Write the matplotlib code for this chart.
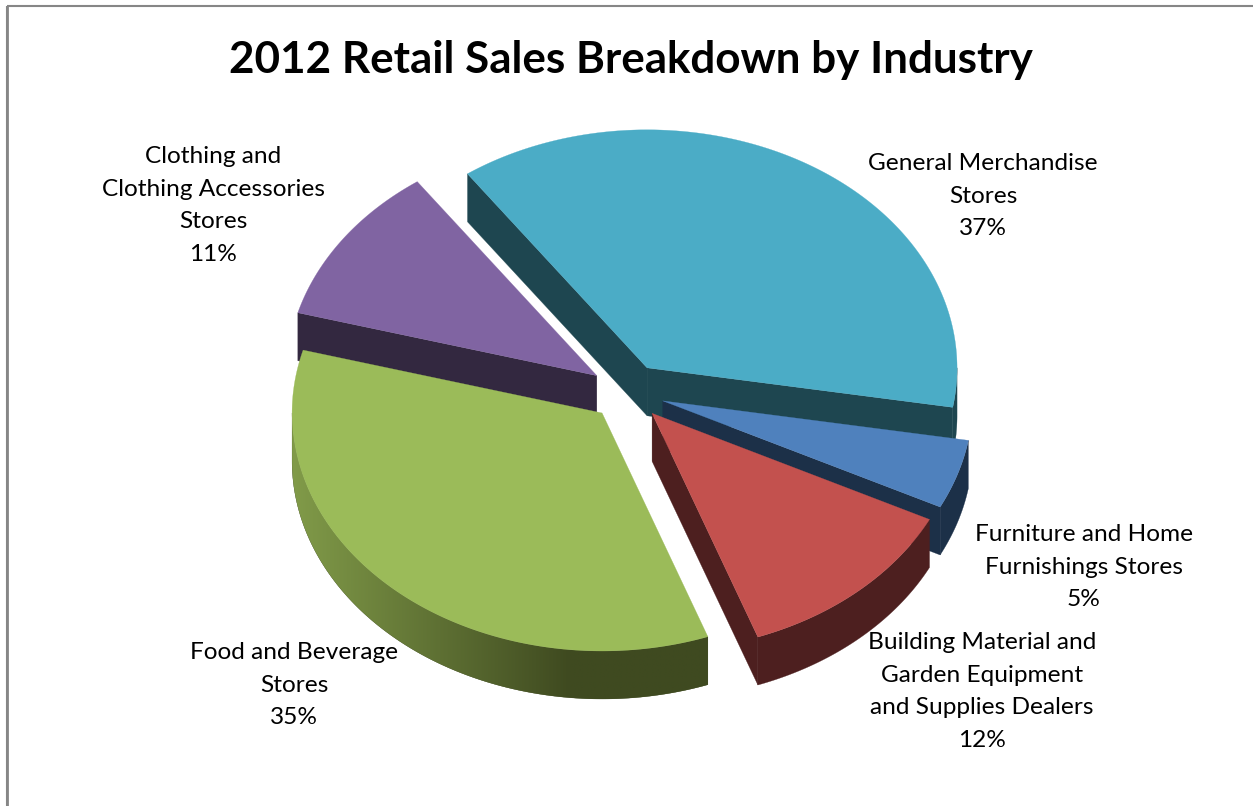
import numpy as np
import matplotlib
matplotlib.use("Agg")
import matplotlib.pyplot as plt
from matplotlib.colors import to_rgb
from matplotlib.patches import Polygon, Rectangle

plt.rcParams['font.family'] = ['Lato', 'DejaVu Sans']

TITLE = "2012 Retail Sales Breakdown by Industry"
categories = ["General Merchandise Stores", "Furniture and Home Furnishings Stores",
              "Building Material and Garden Equipment and Supplies Dealers",
              "Food and Beverage Stores", "Clothing and Clothing Accessories Stores"]
shares = [37.49, 4.7, 12.1, 34.8, 10.91]
label_lines = [["General Merchandise", "Stores"],
               ["Furniture and Home", "Furnishings Stores"],
               ["Building Material and", "Garden Equipment", "and Supplies Dealers"],
               ["Food and Beverage", "Stores"],
               ["Clothing and", "Clothing Accessories", "Stores"]]
label_x = [983, 1084, 982, 294, 213]
label_first_baseline = [170, 541, 649, 659, 163]
LINE_STEP = 32.7
top_colors = ["#4BACC6", "#4F81BD", "#C3514E", "#9BBB59", "#8064A2"]
wall_colors = ["#1E4650", "#1C3048", "#4D1F1F", "#3F4A20", "#332840"]
paint_order = [0, 4, 1, 3, 2]

# Projected pie geometry, in figure pixels
CX, CY = 627.3, 392.0
RX, RY = 310.0, 238.0
DEPTH = 48.0
EXPLODE = 0.12
START_ANGLE = -35.4   # degrees clockwise from the top

# Side walls brighten from GRAD_DARK_X out to GRAD_LIGHT_X
GRAD_DARK_X, GRAD_LIGHT_X = 570.0, 291.0
GRAD_LIGHT_MIX = 0.72

fig = plt.figure(figsize=(12.53, 8.06), dpi=100, facecolor="white")
ax = fig.add_axes([0, 0, 1, 1])
ax.set_xlim(0, 1253)
ax.set_ylim(806, 0)
ax.axis("off")

# Chart-area frame, running off the right and bottom edges
ax.add_patch(Rectangle((7, 6.3), 1400, 1000, fill=False, edgecolor="#868686", lw=1.5))
ax.plot([7, 7], [6, 806], color="#868686", lw=2.0, solid_capstyle="butt")


def rim(apex, deg):
    a = np.radians(deg)
    return apex[0] + RX * np.sin(a), apex[1] - RY * np.cos(a)


def extrude(p, q, color, z):
    pts = [p, q, (q[0], q[1] + DEPTH), (p[0], p[1] + DEPTH)]
    ax.add_patch(Polygon(pts, closed=True, facecolor=color, edgecolor=color, lw=0.2, zorder=z))


def outer_wall(apex, a0, a1, wall, top, z):
    # The curved wall shows only where the rim faces the viewer (90 to 270 degrees)
    lo, hi = max(a0, 90.0), min(a1, 270.0)
    if lo >= hi:
        return
    xs, ys = rim(apex, np.linspace(lo, hi, 200))
    pts = np.vstack([np.column_stack([xs, ys]), np.column_stack([xs, ys + DEPTH])[::-1]])
    patch = Polygon(pts, closed=True, facecolor=wall, edgecolor=wall, lw=0.2, zorder=z)
    ax.add_patch(patch)
    x0, x1 = pts[:, 0].min(), pts[:, 0].max()
    if x0 >= GRAD_DARK_X:
        return
    # Horizontal shading, clipped to the wall outline
    d, t = np.array(to_rgb(wall)), np.array(to_rgb(top))
    light = d + (t - d) * GRAD_LIGHT_MIX
    gx = np.linspace(x0, x1, 512)
    f = np.clip((GRAD_DARK_X - gx) / (GRAD_DARK_X - GRAD_LIGHT_X), 0, 1)[:, None]
    img = (d + (light - d) * f)[None, :, :]
    im = ax.imshow(img, extent=(x0, x1, pts[:, 1].max(), pts[:, 1].min()), aspect="auto",
                   interpolation="bilinear", zorder=z + 0.1)
    im.set_clip_path(patch)


edges = START_ANGLE + np.concatenate([[0], np.cumsum(shares)]) * 360 / sum(shares)
z = 2
for i in paint_order:
    a0, a1 = edges[i], edges[i + 1]
    mid = np.radians((a0 + a1) / 2)
    apex = (CX + EXPLODE * RX * np.sin(mid), CY - EXPLODE * RY * np.cos(mid))

    # A cut face shows only when it turns toward the viewer
    start, end = rim(apex, a0), rim(apex, a1)
    if start[0] < apex[0]:
        extrude(apex, start, wall_colors[i], z)
    if end[0] > apex[0]:
        extrude(apex, end, wall_colors[i], z)

    outer_wall(apex, a0, a1, wall_colors[i], top_colors[i], z + 0.2)

    xs, ys = rim(apex, np.linspace(a0, a1, 240))
    ax.add_patch(Polygon(np.vstack([[apex], np.column_stack([xs, ys])]), closed=True,
                         facecolor=top_colors[i], edgecolor=top_colors[i], lw=0.2, zorder=z + 0.5))
    z += 1

ax.set_xlim(0, 1253)
ax.set_ylim(806, 0)

ax.text(631, 73, TITLE, ha="center", va="baseline", fontsize=31.7, fontweight="bold",
        color="black", zorder=20)

for lines, x, y0, v in zip(label_lines, label_x, label_first_baseline, shares):
    for k, s in enumerate(lines + [f"{round(v)}%"]):
        ax.text(x, y0 + k * LINE_STEP, s, ha="center", va="baseline", fontsize=17.6,
                color="black", zorder=20)

fig.savefig("out.png", dpi=100, facecolor="white")
